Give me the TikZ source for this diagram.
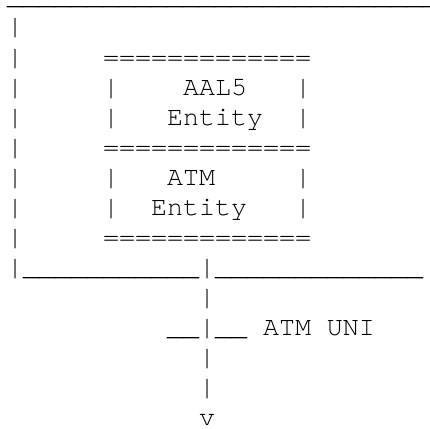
\documentclass[tikz,border=0pt]{standalone}
\usepackage{fontspec}
\newfontfamily\asciifont{texgyrecursor-regular.otf}
\usepackage{tikz}
\usetikzlibrary{positioning}

% a row of underscores
\newcommand{\underrow}[1]{\foreach \k in {1,...,#1}{\_}}

\begin{document}
\begin{tikzpicture}[x=16pt,y=-30pt,
    ascii/.style={anchor=base west,inner sep=0pt,outer sep=0pt,
      font={\asciifont\fontsize{26.67pt}{30pt}\selectfont}}]
  % page frame, same margins as the original
  \useasboundingbox (-7pt,5pt) rectangle (423pt,-423pt);

  % top rule
  \node[ascii] (toprule) at (0,0) {\underrow{27}};

  % left side
  \foreach \r in {1,...,8}
    \node[ascii] (lbar\r) at (0,\r) {|};

  % AAL5 box
  \node[ascii] (eqa) at (6,2) {=============};
  \node[ascii] (aal) at (11,3) {AAL5};
  \node[ascii] (aalent) at (10,4) {Entity};
  \node[ascii] (eqb) at (6,5) {=============};

  % ATM box
  \node[ascii] (atm) at (10,6) {ATM};
  \node[ascii] (atment) at (9,7) {Entity};
  \node[ascii] (eqc) at (6,8) {=============};

  % box sides
  \foreach \r in {3,4,6,7} {
    \node[ascii] (boxl\r) at (6,\r) {|};
    \node[ascii] (boxr\r) at (18,\r) {|};
  }

  % bottom rule with the stem
  \node[ascii] (botrule) at (0,9) {|\underrow{11}|\underrow{13}};
  \node[ascii] (stema) at (12,10) {|};
  \node[ascii] (uni) at (10,11) {\underrow{2}|\underrow{2}};
  \node[ascii] (unilabel) at (16,11) {ATM UNI};
  \node[ascii] (stemb) at (12,12) {|};
  \node[ascii] (stemc) at (12,13) {|};
  \node[ascii] (tip) at (12,14) {v};
\end{tikzpicture}
\end{document}
